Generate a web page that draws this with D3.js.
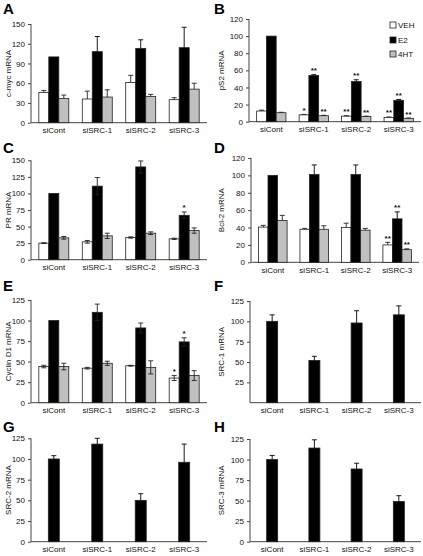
<!DOCTYPE html>
<html><head><meta charset="utf-8">
<script src="https://cdn.jsdelivr.net/npm/d3@7"></script>
<style>body{margin:0;background:#fff}svg{display:block;font-family:Arial,"Liberation Sans",sans-serif}</style>
</head><body><svg id="c" width="423" height="556"></svg>
<script>
const categories = ["siCont","siSRC-1","siSRC-2","siSRC-3"];
const seriesNames = ["VEH","E2","4HT"];
const seriesFill = ["#ffffff","#000000","#c0c0c0"];

// A: c-myc
const mycVEH = [46,36,61,35],   mycVEHErr = [3,12,11,3];
const mycE2  = [100,108,113,114], mycE2Err = [0,23,13,31];
const myc4HT = [37,39,40,51],   myc4HTErr = [5,11,3,9];
const mycTicks = [0,30,60,90,120,150];
// B: pS2
const ps2VEH = [12.5,8,6.5,5],  ps2VEHErr = [1,0.5,0.5,0.5];
const ps2E2  = [100,54,47,25],  ps2E2Err = [0,1,2,1];
const ps24HT = [10.5,7,6,4],    ps24HTErr = [0.5,0.5,0.5,0.3];
const ps2StarsVEH = ["","*","**","**"], ps2StarsE2 = ["","**","**","**"], ps2Stars4HT = ["","**","**","**"];
const ps2Ticks = [0,20,40,60,80,100,120];
// C: PR
const prVEH = [25,27,33.5,31.5], prVEHErr = [0.5,2,1,1];
const prE2  = [100,111,140,67], prE2Err = [0,13,9,5];
const pr4HT = [33,36,40,44],     pr4HTErr = [2,4,2,4];
const prStarsE2 = ["","","","*"];
const prTicks = [0,25,50,75,100,125,150];
// D: Bcl-2
const bclVEH = [40.5,38,40,20], bclVEHErr = [2,1,5,3];
const bclE2  = [100,101,101,50], bclE2Err = [0,11,11,8];
const bcl4HT = [48,38,37,14.5], bcl4HTErr = [6,4,2,1];
const bclStars = ["","","","**"];
const bclTicks = [0,20,40,60,80,100,120];
// E: Cyclin D1
const cycVEH = [44,42,45,30], cycVEHErr = [1.5,1,0.5,3];
const cycE2  = [100,110,91,74], cycE2Err = [0,10,6,5];
const cyc4HT = [44,48,43,33], cyc4HTErr = [4,2.5,8,6];
const cycStars = ["","","","*"];
const cycTicks = [0,25,50,75,100,125];
// F, G, H
const src1 = [100,52,98,108], src1Err = [8,5,15,11];
const src2 = [100,118,50,96], src2Err = [4,7,8,22];
const src3 = [100,114,88.5,49], src3Err = [5,10,7,7];
const srcTicks0 = [0,25,50,75,100,125];
const srcTicks1 = [25,50,75,100,125];

const svg = d3.select("#c");
const ink = "#222";

function panel(o){
  const g = svg.append("g");
  const x = d3.scaleBand().domain(categories).range([o.l,o.r]).paddingInner(0.31).paddingOuter(0.18);
  const y = d3.scaleLinear().domain([0,o.max]).range([o.b,o.t]);
  g.append("text").attr("x",o.lx).attr("y",o.ly).attr("font-size",15).attr("font-weight","bold").text(o.letter);
  // y axis
  const ya = g.append("g").attr("transform",`translate(${o.l},0)`)
    .call(d3.axisLeft(y).tickValues(o.ticks).tickSize(3).tickPadding(3).tickSizeOuter(0));
  ya.select(".domain").attr("stroke","#444").attr("d",`M0,${o.b}V${o.t}`);
  ya.selectAll(".tick line").attr("stroke","#444");
  ya.selectAll(".tick text").attr("font-size",8).attr("fill","#111").attr("font-family","Arial, 'Liberation Sans', sans-serif");
  // x axis
  const xa = g.append("g").attr("transform",`translate(0,${o.b})`)
    .call(d3.axisBottom(x).tickSize(0).tickPadding(5));
  xa.select(".domain").attr("stroke","#444").attr("d",`M${o.l},0H${o.r}`);
  xa.selectAll(".tick text").attr("font-size",8).attr("fill","#111").attr("font-family","Arial, 'Liberation Sans', sans-serif");
  g.append("text").attr("transform",`translate(${o.tx},${(o.t+o.b)/2}) rotate(-90)`)
    .attr("text-anchor","middle").attr("dominant-baseline","central").attr("font-size",8).attr("fill","#111").text(o.title);

  const S = o.series;
  let x1, bw;
  if (S.length > 1) {
    x1 = d3.scaleBand().domain(d3.range(S.length)).range([0,x.bandwidth()]);
    bw = x1.bandwidth();
  } else {
    bw = 11;
    x1 = () => (x.bandwidth()-bw)/2;
  }
  S.forEach((s,si)=>{
    categories.forEach((c,ci)=>{
      const v = s.v[ci], e = s.e[ci];
      const bx = x(c)+x1(si), cx = bx+bw/2;
      g.append("rect").attr("x",bx).attr("y",y(v)).attr("width",bw).attr("height",y(0)-y(v))
        .attr("fill",s.fill).attr("stroke",ink).attr("stroke-width",0.8);
      if (e>0){
        const lo = o.both ? v-e : v;
        const ec = s.fill==="#000000" && !o.both ? "#000" : ink;
        g.append("line").attr("x1",cx).attr("x2",cx).attr("y1",y(lo)).attr("y2",y(v+e)).attr("stroke",ec).attr("stroke-width",0.9);
        g.append("line").attr("x1",cx-2.5).attr("x2",cx+2.5).attr("y1",y(v+e)).attr("y2",y(v+e)).attr("stroke",ec).attr("stroke-width",0.9);
        if (o.both) g.append("line").attr("x1",cx-2.5).attr("x2",cx+2.5).attr("y1",y(v-e)).attr("y2",y(v-e)).attr("stroke",ink).attr("stroke-width",0.9);
      }
      if (s.stars && s.stars[ci]) {
        g.append("text").attr("x",cx).attr("y",y(v+e)-1.5).attr("text-anchor","middle")
          .attr("font-size",8).attr("font-weight","bold").attr("fill","#111").text(s.stars[ci]);
      }
    });
  });
  return g;
}

const L = {l:31,r:207,lx:3,tx:8}, R = {lx:214,tx:221};
const grp = (v1,e1,v2,e2,v3,e3,s1,s2,s3)=>[
  {v:v1,e:e1,fill:seriesFill[0],stars:s1},
  {v:v2,e:e2,fill:seriesFill[1],stars:s2},
  {v:v3,e:e3,fill:seriesFill[2],stars:s3}];

panel({...L,t:24,b:122.7,ly:14,letter:"A",max:150,ticks:mycTicks,title:"c-myc mRNA",both:false,
  series:grp(mycVEH,mycVEHErr,mycE2,mycE2Err,myc4HT,myc4HTErr)});
panel({...R,l:249,r:421,t:19,b:121.7,ly:14,letter:"B",max:120,ticks:ps2Ticks,title:"pS2 mRNA",both:false,
  series:grp(ps2VEH,ps2VEHErr,ps2E2,ps2E2Err,ps24HT,ps24HTErr,ps2StarsVEH,ps2StarsE2,ps2Stars4HT)});
panel({...L,t:160.3,b:259.7,ly:153,letter:"C",max:150,ticks:prTicks,title:"PR mRNA",both:true,
  series:grp(prVEH,prVEHErr,prE2,prE2Err,pr4HT,pr4HTErr,null,prStarsE2,null)});
panel({...R,l:251,r:419,t:158,b:262.3,ly:153,letter:"D",max:120,ticks:bclTicks,title:"Bcl-2 mRNA",both:false,
  series:grp(bclVEH,bclVEHErr,bclE2,bclE2Err,bcl4HT,bcl4HTErr,bclStars,bclStars,bclStars)});
panel({...L,t:300,b:402.7,ly:291,letter:"E",max:125,ticks:cycTicks,title:"Cyclin D1 mRNA",both:true,
  series:grp(cycVEH,cycVEHErr,cycE2,cycE2Err,cyc4HT,cyc4HTErr,cycStars,cycStars,null)});
panel({...R,l:250,r:421,t:301,b:402.7,ly:291,letter:"F",max:125,ticks:srcTicks1,title:"SRC-1 mRNA",both:false,
  series:[{v:src1,e:src1Err,fill:"#000000"}]});
panel({...L,t:438.3,b:541.7,ly:432,letter:"G",max:125,ticks:srcTicks0,title:"SRC-2 mRNA",both:false,
  series:[{v:src2,e:src2Err,fill:"#000000"}]});
panel({...R,l:250,r:421,t:439,b:541.7,ly:432,letter:"H",max:125,ticks:srcTicks0,title:"SRC-3 mRNA",both:false,
  series:[{v:src3,e:src3Err,fill:"#000000"}]});

// legend in B
const lg = svg.append("g");
seriesNames.forEach((n,i)=>{
  const yy = [25,40,54][i];
  lg.append("rect").attr("x",390).attr("y",yy-3).attr("width",6).attr("height",6)
    .attr("fill",seriesFill[i]).attr("stroke",ink).attr("stroke-width",0.8);
  lg.append("text").attr("x",398).attr("y",yy).attr("dominant-baseline","central")
    .attr("font-size",8).attr("fill","#111").text(n);
});
</script></body></html>
